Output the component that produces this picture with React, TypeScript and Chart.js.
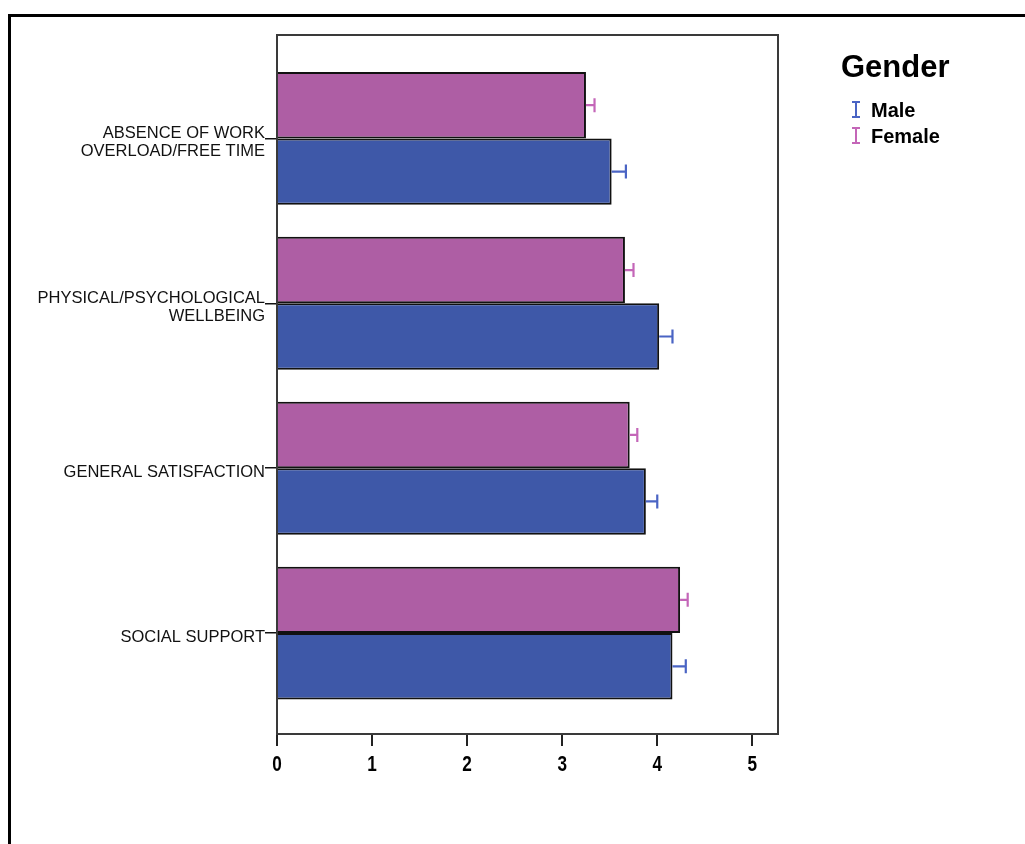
import { useEffect, useRef } from "react";
import { Chart, registerables } from "chart.js";

Chart.register(...registerables);

// Scale categories (top to bottom); each entry is the list of label lines
const categories: string[][] = [
  ["ABSENCE OF WORK", "OVERLOAD/FREE TIME"],
  ["PHYSICAL/PSYCHOLOGICAL", "WELLBEING"],
  ["GENERAL SATISFACTION"],
  ["SOCIAL SUPPORT"],
];

// Mean scores and upper bound of the error bar, per gender
const maleMeans = [3.52, 4.02, 3.88, 4.16];
const maleUpper = [3.67, 4.16, 4.0, 4.3];
const femaleMeans = [3.25, 3.66, 3.71, 4.24];
const femaleUpper = [3.34, 3.75, 3.79, 4.32];

const xTicks = [0, 1, 2, 3, 4, 5];

const legendTitle = "Gender";
const legendItems = [
  { label: "Male", color: "#4a64c4" },
  { label: "Female", color: "#c466b8" },
];

const MALE_FILL = "#3e58a8";
const FEMALE_FILL = "#ae5ea4";
const MALE_ERR = "#4a64c4";
const FEMALE_ERR = "#c466b8";

const LABEL_FONT = "16.5px 'Liberation Sans', Arial, sans-serif";
const TICK_FONT = "bold 22px 'Liberation Sans', Arial, sans-serif";

const errorBarPlugin = {
  id: "errorBars",
  afterDatasetsDraw(chart: any) {
    const ctx = chart.ctx;
    const xs = chart.scales.x;
    const uppers = [femaleUpper, maleUpper];
    const colors = [FEMALE_ERR, MALE_ERR];
    chart.data.datasets.forEach((_: any, d: number) => {
      const meta = chart.getDatasetMeta(d);
      meta.data.forEach((bar: any, i: number) => {
        const xEnd = xs.getPixelForValue(uppers[d][i]);
        ctx.save();
        ctx.strokeStyle = colors[d];
        ctx.lineWidth = 2.2;
        ctx.beginPath();
        ctx.moveTo(bar.x, bar.y);
        ctx.lineTo(xEnd, bar.y);
        ctx.moveTo(xEnd, bar.y - 7);
        ctx.lineTo(xEnd, bar.y + 7);
        ctx.stroke();
        ctx.restore();
      });
    });
  },
};

const frameAndLabelsPlugin = {
  id: "frameAndLabels",
  afterDraw(chart: any) {
    const ctx = chart.ctx;
    const { left, right, top, bottom } = chart.chartArea;
    const ys = chart.scales.y;
    const xs = chart.scales.x;

    // plot frame
    ctx.save();
    ctx.strokeStyle = "#3a3a3a";
    ctx.lineWidth = 2;
    ctx.strokeRect(left, top, right - left, bottom - top);
    ctx.restore();

    // x tick labels in a condensed bold face
    ctx.save();
    ctx.font = TICK_FONT;
    ctx.fillStyle = "#000";
    ctx.textAlign = "center";
    ctx.textBaseline = "alphabetic";
    xTicks.forEach((v) => {
      const px = xs.getPixelForValue(v);
      ctx.save();
      ctx.translate(px, bottom + 37);
      ctx.scale(0.78, 1);
      ctx.fillText(String(v), 0, 0);
      ctx.restore();
    });
    ctx.restore();

    // category labels, right-aligned against the tick marks
    ctx.save();
    ctx.font = LABEL_FONT;
    ctx.fillStyle = "#111";
    ctx.textAlign = "right";
    ctx.textBaseline = "alphabetic";
    const lineH = 17.5;
    categories.forEach((lines, i) => {
      const y = ys.getPixelForValue(i);
      const first = y + 8.5 - (lines.length - 1) * 8.5;
      lines.forEach((t, k) => {
        ctx.fillText(t, left - 12, first + k * lineH);
      });
    });
    ctx.restore();

    // legend
    ctx.save();
    ctx.fillStyle = "#000";
    ctx.textAlign = "left";
    ctx.font = "bold 31px 'Liberation Sans', Arial, sans-serif";
    ctx.fillText(legendTitle, 841, 77);
    ctx.font = "bold 20px 'Liberation Sans', Arial, sans-serif";
    legendItems.forEach((it, k) => {
      const base = 117 + k * 26;
      ctx.fillText(it.label, 871, base);
      const cx = 856;
      ctx.strokeStyle = it.color;
      ctx.lineWidth = 2;
      ctx.beginPath();
      ctx.moveTo(cx, base - 15);
      ctx.lineTo(cx, base);
      ctx.moveTo(cx - 4, base - 15);
      ctx.lineTo(cx + 4, base - 15);
      ctx.moveTo(cx - 4, base);
      ctx.lineTo(cx + 4, base);
      ctx.stroke();
    });
    ctx.restore();
  },
};

export default function App() {
  const canvasRef = useRef<HTMLCanvasElement | null>(null);

  useEffect(() => {
    if (!canvasRef.current) return;
    const chart = new Chart(canvasRef.current, {
      type: "bar",
      data: {
        datasets: [
          {
            label: "Female",
            data: femaleMeans.map((v, i) => ({ x: v, y: i })) as any,
            backgroundColor: FEMALE_FILL,
            borderColor: "#111",
            borderWidth: 2,
            borderSkipped: "start",
            categoryPercentage: 0.806,
            barPercentage: 1,
          },
          {
            label: "Male",
            data: maleMeans.map((v, i) => ({ x: v, y: i })) as any,
            backgroundColor: MALE_FILL,
            borderColor: "#111",
            borderWidth: 2,
            borderSkipped: "start",
            categoryPercentage: 0.806,
            barPercentage: 1,
          },
        ],
      },
      options: {
        indexAxis: "y",
        responsive: false,
        animation: false,
        layout: { padding: { left: 0, top: 35, right: 247, bottom: 0 } },
        plugins: { legend: { display: false }, tooltip: { enabled: false } },
        scales: {
          x: {
            type: "linear",
            min: 0,
            max: 5.27,
            offset: false,
            afterBuildTicks: (s: any) => {
              s.ticks = xTicks.map((v) => ({ value: v }));
            },
            afterFit: (s: any) => {
              s.height = 110;
            },
            grid: {
              offset: false,
              drawOnChartArea: false,
              drawTicks: true,
              tickLength: 12,
              color: "#222",
              lineWidth: 2,
            },
            border: { display: true, color: "#222", width: 2 },
            ticks: { display: false },
          },
          y: {
            type: "linear",
            reverse: true,
            offset: false,
            min: -0.627,
            max: 3.612,
            afterBuildTicks: (s: any) => {
              s.ticks = categories.map((_, i) => ({ value: i }));
            },
            afterFit: (s: any) => {
              s.width = 277;
            },
            ticks: { display: false },
            grid: {
              offset: false,
              drawOnChartArea: false,
              drawTicks: true,
              tickLength: 12,
              color: "#111",
              lineWidth: 1.5,
            },
            border: { display: true, color: "#111", width: 2 },
          },
        },
      } as any,
      plugins: [errorBarPlugin, frameAndLabelsPlugin],
    });
    return () => chart.destroy();
  }, []);

  return (
    <>
      <div
        style={{
          position: "absolute",
          left: 8,
          top: 14,
          width: 1017,
          height: 830,
          boxSizing: "border-box",
          borderTop: "3px solid #000",
          borderLeft: "3px solid #000",
        }}
      />
      <canvas
        ref={canvasRef}
        width={1025}
        height={844}
        style={{ position: "absolute", left: 0, top: 0, width: 1025, height: 844 }}
      />
    </>
  );
}
